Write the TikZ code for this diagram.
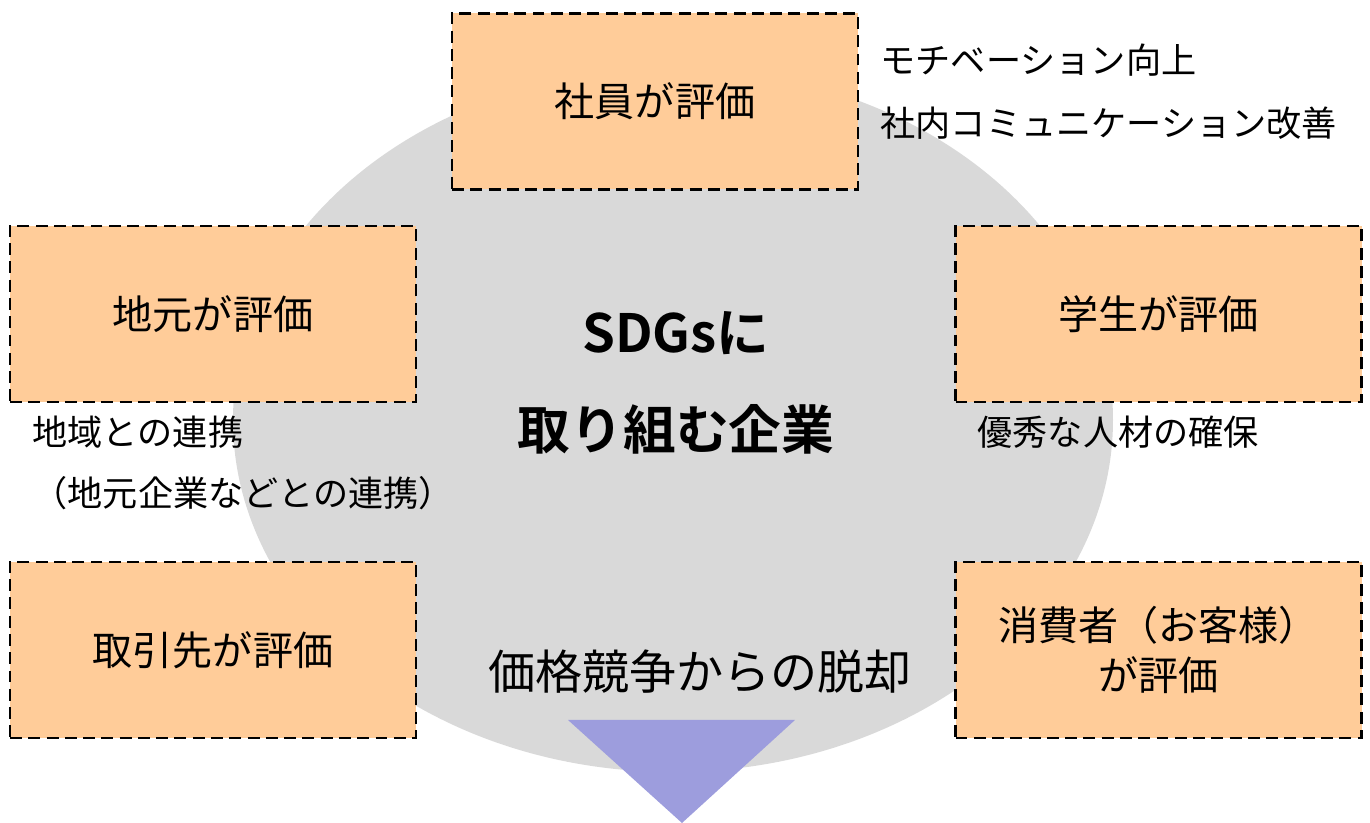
\documentclass[tikz,border=0pt]{standalone}
\usepackage{fontspec}
\setmainfont{Noto Sans CJK JP}[BoldFont={Noto Sans CJK JP Bold}]
\usetikzlibrary{shapes.geometric, positioning, calc}
\usepackage{xcolor}

\definecolor{hyokaOrange}{HTML}{FFCC99}
\definecolor{baseGray}{HTML}{D9D9D9}
\definecolor{arrowPurple}{HTML}{9D9DDD}

\tikzset{
  hyoka/.style={rectangle, draw=black, fill=hyokaOrange, line width=0.7pt,
    dash pattern=on 3.4pt off 1.8pt, minimum width=4.06cm, minimum height=1.76cm,
    align=center, font=\fontsize{11.4pt}{14.2pt}\selectfont},
  memo/.style={anchor=west, inner sep=0pt, font=\fontsize{10pt}{12pt}\selectfont}
}

\begin{document}
\begin{tikzpicture}
  \useasboundingbox (0,0) rectangle (13.70,8.23);

  % background ellipse and arrow
  \node[ellipse, fill=baseGray, minimum width=8.80cm, minimum height=7.04cm, inner sep=0pt] (base) at (6.73,4.03) {};
  \fill[arrowPurple] (5.68,1.03) -- (7.95,1.03) -- (6.82,0) -- cycle;

  % center text
  \node[align=center, font=\fontsize{15pt}{27.6pt}\selectfont\bfseries] (kigyo) at (6.76,4.40)
    {SDGsに\\取り組む企業};
  \node[font=\fontsize{13.4pt}{16pt}\selectfont] (datsukyaku) at (7.00,1.51) {価格競争からの脱却};

  % evaluators
  \node[hyoka] (shain) at (6.55,7.215) {社員が評価};
  \node[hyoka] (jimoto) at (2.13,5.09) {地元が評価};
  \node[hyoka] (gakusei) at (11.585,5.09) {学生が評価};
  \node[hyoka] (torihiki) at (2.13,1.73) {取引先が評価};
  \node[hyoka] (shohisha) at (11.585,1.73) {消費者（お客様）\\が評価};

  % notes
  \node[memo] (motivation) at (8.80,7.63) {モチベーション向上};
  \node[memo] (communication) at (8.80,7.00) {社内コミュニケーション改善};
  \node[memo] (chiiki) at (0.32,3.91) {地域との連携};
  \node[memo] (chiikiSub) at (0.32,3.30) {（地元企業などとの連携）};
  \node[memo] (jinzai) at (9.77,3.91) {優秀な人材の確保};
\end{tikzpicture}
\end{document}
